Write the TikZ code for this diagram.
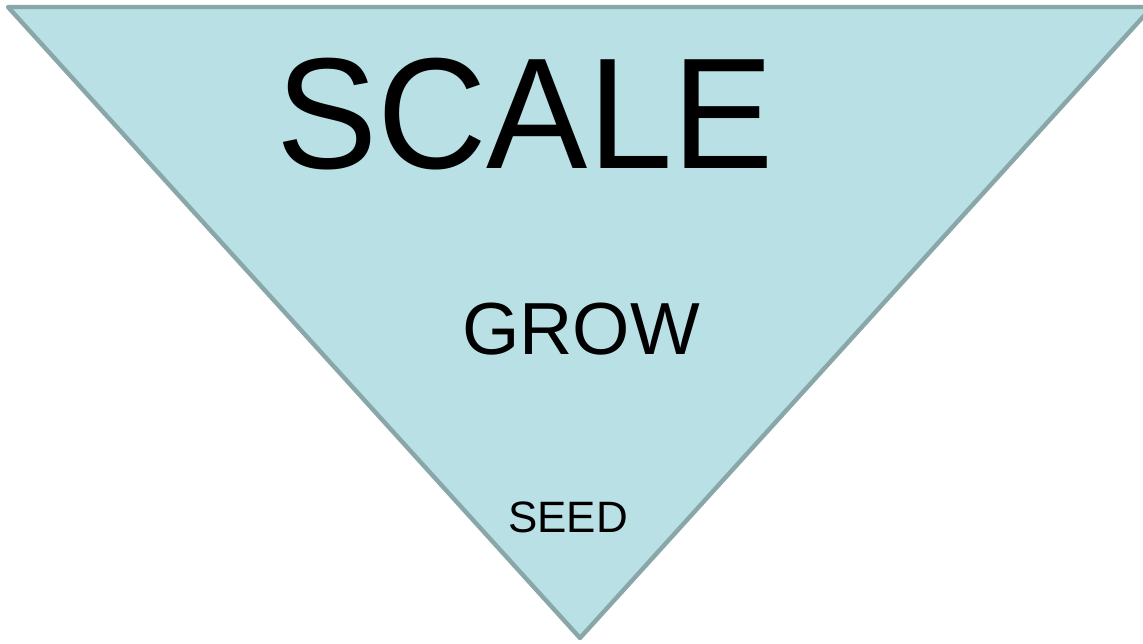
\documentclass[tikz,border=0pt]{standalone}
\usepackage{fontspec}
\setmainfont{Liberation Sans}
\usepackage{tikz}
\usetikzlibrary{calc}
\usetikzlibrary{positioning}
\definecolor{FunnelFill}{RGB}{185,224,228}
\definecolor{FunnelEdge}{RGB}{137,166,168}
\newcommand{\stageLabel}[2]{{\fontsize{#1}{#1}\selectfont #2}}
\tikzset{
	funnel/.style={fill=FunnelFill, draw=FunnelEdge, line width=2.5pt, line join=round},
	stage/.style={anchor=base, inner sep=0pt, text=black}
}

\begin{document}
\begin{tikzpicture}[x=0.02cm, y=-0.02cm]
	
		\clip (0,0) rectangle (1143,644);
		
		\coordinate (tl) at (8,7);
		\coordinate (tr) at (1152,7);
		\coordinate (bt) at (580,638);
		
		\draw [funnel] (tl) -- (tr) -- (bt) -- cycle;
		
		\node [stage, xscale=0.96] (scale) at (525,169) {\stageLabel{90}{SCALE}}; %top
		\node [stage] (grow) at (581,355) {\stageLabel{42}{GROW}}; %middle
		\node [stage] (seed) at (568,533) {\stageLabel{25}{SEED}}; %bottom
	\end{tikzpicture}
\end{document}
